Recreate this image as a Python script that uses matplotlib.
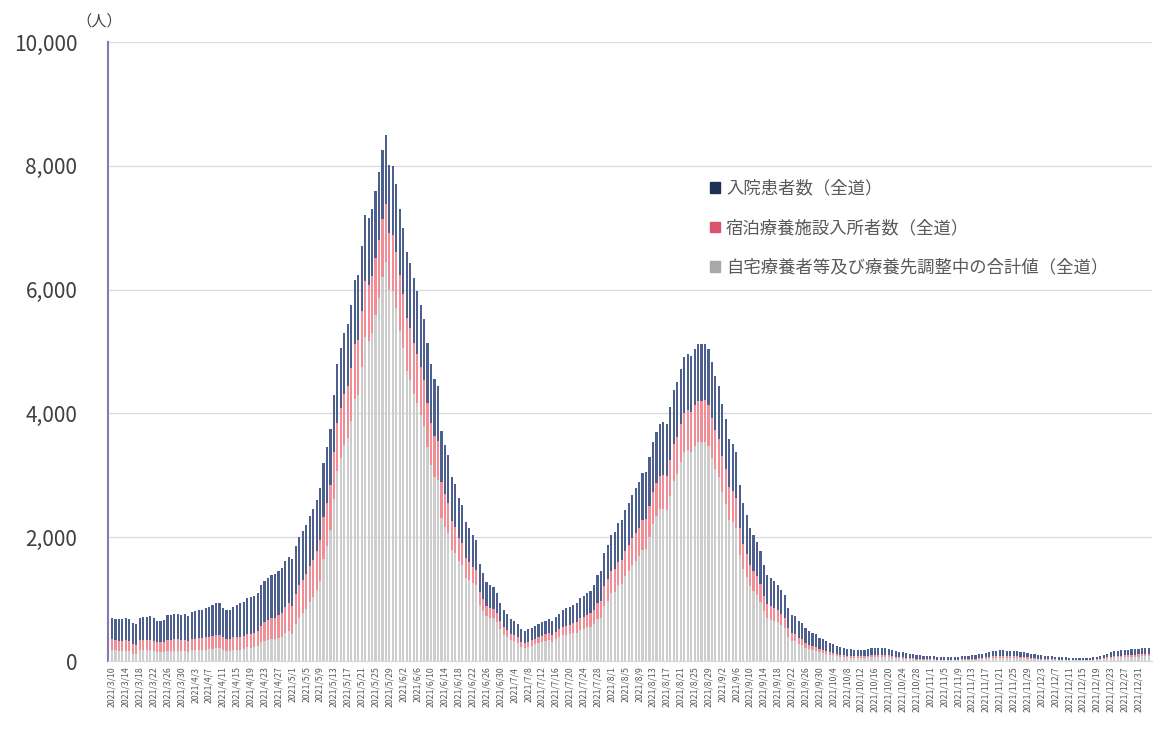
import numpy as np
import pandas as pd
import matplotlib
matplotlib.use("Agg")
import matplotlib.pyplot as plt
from matplotlib.patches import Patch
from matplotlib.ticker import FuncFormatter

plt.rcParams["font.family"] = ["Noto Sans CJK JP", "DejaVu Sans"]

# daily values, 2021/3/10 .. 2022/1/3 (one row per month)
total = [
    690, 680, 680, 680, 690, 680, 610, 590, 700, 710, 710, 720, 700, 650, 650, 660, 740, 750, 760, 765, 740, 765,
    720, 790, 800, 820, 830, 850, 870, 900, 935, 940, 860, 820, 830, 880, 910, 935, 950, 1020, 1030, 1050, 1100, 1220, 1300, 1340, 1390, 1400, 1450, 1500, 1620, 1680,
    1650, 1850, 2000, 2100, 2200, 2350, 2450, 2600, 2800, 3200, 3450, 3750, 4300, 4800, 5050, 5300, 5450, 5750, 6150, 6230, 6700, 7200, 7150, 7300, 7600, 7900, 8250, 8500, 8020, 7990, 7700,
    7310, 7000, 6600, 6430, 6180, 5980, 5750, 5520, 5130, 4790, 4560, 4450, 3710, 3490, 3320, 2980, 2860, 2640, 2520, 2240, 2150, 2040, 1960, 1560, 1420, 1280, 1220, 1190, 1100, 940,
    822, 765, 680, 652, 595, 510, 482, 510, 538, 567, 595, 623, 652, 680, 652, 708, 765, 822, 850, 878, 906, 935, 1020, 1048, 1105, 1133, 1233, 1394, 1448, 1743, 1877,
    2037, 2091, 2225, 2279, 2440, 2547, 2681, 2788, 2895, 3030, 3056, 3298, 3539, 3700, 3834, 3861, 3834, 4102, 4370, 4504, 4719, 4906, 4960, 4933, 5040, 5121, 5121, 5121, 5040, 4826, 4611,
    4450, 4156, 3914, 3593, 3512, 3378, 2842, 2547, 2359, 2145, 2037, 1930, 1769, 1555, 1394, 1340, 1287, 1233, 1153, 1072, 858, 751, 724, 643, 617, 536, 483, 456, 429, 375,
    349, 322, 290, 268, 240, 225, 214, 200, 190, 185, 180, 180, 185, 195, 205, 215, 215, 210, 205, 195, 180, 165, 150, 140, 130, 120, 110, 100, 95, 88, 80,
    80, 75, 72, 70, 70, 68, 68, 70, 72, 75, 80, 85, 90, 100, 110, 120, 135, 150, 160, 165, 170, 170, 165, 160, 160, 155, 150, 140, 130, 120,
    110, 100, 90, 85, 80, 75, 70, 65, 60, 58, 55, 52, 50, 50, 50, 52, 55, 60, 70, 85, 100, 120, 140, 155, 165, 170, 180, 185, 190, 195, 200,
    205, 210, 215,
]
hospital = [
    340, 345, 350, 350, 355, 350, 340, 330, 360, 365, 370, 375, 370, 350, 350, 360, 400, 405, 410, 415, 400, 420,
    400, 430, 440, 450, 460, 470, 480, 500, 520, 520, 480, 460, 470, 500, 520, 540, 550, 580, 590, 600, 620, 650, 670, 680, 690, 700, 710, 720, 740, 750,
    760, 770, 780, 790, 800, 810, 820, 830, 850, 870, 890, 910, 930, 950, 970, 990, 1000, 1010, 1030, 1040, 1050, 1060, 1070, 1080, 1090, 1100, 1110, 1110, 1100, 1100, 1090,
    1080, 1070, 1060, 1050, 1040, 1020, 1000, 980, 960, 940, 920, 900, 820, 790, 760, 720, 690, 650, 620, 580, 550, 520, 490, 450, 420, 390, 370, 350, 330, 300,
    280, 260, 240, 230, 215, 200, 190, 195, 200, 205, 210, 215, 220, 230, 225, 240, 255, 270, 280, 290, 300, 310, 330, 340, 355, 365, 410, 460, 480, 530, 560,
    580, 600, 620, 640, 660, 680, 700, 720, 740, 760, 770, 790, 810, 830, 840, 850, 850, 860, 870, 880, 890, 900, 905, 905, 910, 915, 915, 910, 905, 895, 880,
    860, 840, 820, 790, 770, 750, 700, 660, 630, 600, 580, 560, 530, 500, 470, 450, 430, 410, 390, 370, 330, 300, 290, 270, 260, 240, 220, 210, 200, 180,
    170, 160, 150, 140, 130, 125, 120, 115, 110, 108, 105, 105, 105, 110, 112, 115, 115, 112, 110, 105, 100, 95, 88, 82, 78, 74, 68, 64, 60, 57, 54,
    52, 50, 48, 47, 47, 46, 46, 47, 48, 50, 52, 55, 58, 62, 66, 70, 75, 80, 84, 86, 88, 88, 86, 84, 84, 82, 80, 76, 72, 68,
    64, 60, 56, 53, 50, 48, 45, 43, 40, 39, 37, 35, 34, 34, 34, 35, 36, 38, 42, 48, 55, 62, 70, 76, 80, 82, 86, 88, 90, 92, 94,
    95, 96, 98,
]
hotel = [
    170, 165, 165, 165, 170, 170, 150, 150, 170, 170, 170, 175, 170, 160, 160, 160, 180, 180, 185, 185, 180, 185,
    180, 190, 190, 195, 195, 200, 200, 205, 210, 210, 200, 195, 195, 200, 205, 210, 210, 220, 225, 230, 240, 270, 300, 320, 340, 350, 370, 390, 420, 440,
    460, 490, 520, 540, 560, 580, 600, 620, 650, 680, 700, 720, 750, 780, 800, 820, 840, 860, 880, 890, 900, 910, 910, 920, 920, 930, 930, 940, 930, 920, 910,
    900, 880, 860, 840, 820, 800, 780, 750, 720, 690, 660, 630, 580, 540, 500, 460, 420, 380, 350, 320, 290, 260, 240, 210, 190, 170, 160, 150, 140, 130,
    120, 110, 100, 95, 90, 85, 80, 85, 90, 95, 100, 105, 110, 115, 115, 120, 130, 140, 150, 155, 160, 170, 185, 195, 205, 215, 230, 260, 275, 320, 345,
    360, 370, 385, 395, 410, 420, 430, 445, 460, 475, 480, 500, 520, 535, 545, 550, 550, 570, 590, 605, 620, 635, 645, 645, 655, 665, 670, 670, 665, 650, 630,
    610, 580, 550, 520, 500, 480, 430, 400, 370, 340, 320, 300, 280, 250, 230, 220, 210, 200, 185, 170, 140, 120, 115, 100, 95, 85, 75, 70, 65, 55,
    50, 45, 40, 36, 32, 30, 28, 26, 25, 24, 24, 24, 25, 27, 30, 32, 32, 30, 28, 26, 24, 22, 20, 18, 16, 15, 14, 13, 12, 11, 10,
    10, 9, 9, 8, 8, 8, 8, 8, 9, 10, 11, 12, 13, 15, 17, 19, 22, 25, 27, 28, 29, 29, 28, 27, 27, 26, 25, 23, 21, 19,
    17, 15, 13, 12, 11, 10, 9, 8, 8, 7, 7, 7, 6, 6, 6, 7, 7, 8, 10, 12, 15, 18, 22, 25, 27, 28, 30, 31, 32, 33, 34,
    35, 36, 38,
]
labels = ["入院患者数（全道）", "宿泊療養施設入所者数（全道）",
          "自宅療養者等及び療養先調整中の合計値（全道）"]

total = np.array(total)
hospital = np.array(hospital)
hotel = np.array(hotel)
home = total - hospital - hotel  # grey part is what's left under the pink band

dates = pd.date_range("2021-03-10", periods=len(total))
x = np.arange(len(total))

fig = plt.figure(figsize=(11.54, 7.33), dpi=100)
ax = fig.add_axes([108 / 1154, 72 / 733, 1044 / 1154, 619 / 733])

# thin bars look washed out in the original, so the fills are lighter
# than the legend swatches
w = 0.62
ax.bar(x, home, width=w, color="#cdcdcd", lw=0)
ax.bar(x, hotel, width=w, bottom=home, color="#f08d95", lw=0)
ax.bar(x, hospital, width=w, bottom=home + hotel, color="#4c5f8e", lw=0)

ax.set_xlim(-1.15, 299.9)
ax.set_ylim(0, 10000)
ax.set_yticks(range(0, 10001, 2000))
ax.yaxis.set_major_formatter(FuncFormatter(lambda v, p: f"{int(v):,}"))
ax.set_xticks(x[::4])
ax.set_xticklabels([f"{d.year}/{d.month}/{d.day}" for d in dates[::4]])

ax.tick_params(axis="x", length=0, pad=4, labelsize=6.3, labelcolor="#595959", rotation=90)
ax.tick_params(axis="y", length=0, pad=22, labelsize=15, labelcolor="#404040")

for s in ("top", "right"):
    ax.spines[s].set_visible(False)
ax.spines["left"].set_color("#8478b8")
ax.spines["left"].set_linewidth(1.5)
ax.spines["bottom"].set_color("#d9d9d9")
ax.yaxis.grid(True, color="#dcdcdc", lw=0.9)
ax.set_axisbelow(True)

handles = [Patch(color="#1f3055"), Patch(color="#d9536b"), Patch(color="#a8a8a8")]
ax.legend(handles, labels, loc="upper left",
          bbox_to_anchor=(0.577, 0.778), frameon=False, fontsize=12.5,
          handlelength=0.55, handleheight=0.55, handletextpad=0.35,
          labelspacing=1.25, borderaxespad=0, borderpad=0, labelcolor="#595959")

fig.text(99 / 1154, 1 - 21 / 733, "（人）", ha="center", va="center",
         fontsize=11, color="#404040")

fig.savefig("out.png", dpi=100)
